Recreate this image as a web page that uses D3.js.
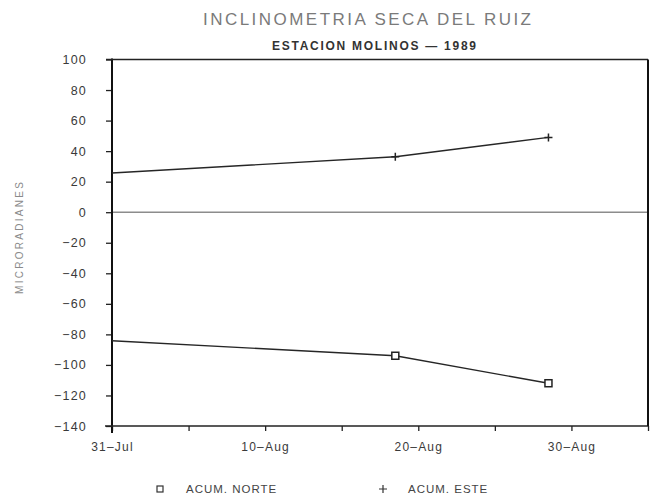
<!DOCTYPE html>
<html>
<head>
<meta charset="utf-8">
<script src="https://cdn.jsdelivr.net/npm/d3@7"></script>
<style>
  html, body { margin: 0; padding: 0; background: #fff; }
  svg { display: block; }
  text { font-family: "Liberation Sans", Arial, sans-serif; }
</style>
</head>
<body>
<svg id="chart" width="657" height="501"></svg>
<script>
// Readings of the dry-tilt station (accumulated tilt, microradians)
const dates = ["1989-07-31T00:00", "1989-08-18T12:00", "1989-08-28T12:00"];
const acumNorte = [-84.2, -94.0, -112.0];
const acumEste = [25.7, 36.3, 49.0];
const seriesNames = ["ACUM. NORTE", "ACUM. ESTE"];

// Axis setup
const xStart = "1989-07-31", xEnd = "1989-09-04";
const tickEveryDays = 5;
const xTickLabels = ["31–Jul", "10–Aug", "20–Aug", "30–Aug"];
const xLabelDates = ["1989-07-31", "1989-08-10", "1989-08-20", "1989-08-30"];
const yTicks = [100, 80, 60, 40, 20, 0, -20, -40, -60, -80, -100, -120, -140];

const title = "INCLINOMETRIA SECA DEL RUIZ";
const subtitle = "ESTACION MOLINOS — 1989";
const yTitle = "MICRORADIANES";

const parse = d3.isoParse;
const svg = d3.select("#chart");

const plot = { left: 112, right: 648, top: 59.5, bottom: 426 };

const x = d3.scaleTime()
  .domain([parse(xStart), parse(xEnd)])
  .range([plot.left, plot.right]);
const y = d3.scaleLinear()
  .domain([-140, 100])
  .range([plot.bottom, plot.top]);

// Titles
svg.append("text")
  .attr("x", 367).attr("y", 25)
  .attr("text-anchor", "middle")
  .attr("font-size", 17)
  .attr("fill", "#7a7a7a")
  .attr("textLength", 328).attr("lengthAdjust", "spacing")
  .text(title);

svg.append("text")
  .attr("x", 374).attr("y", 50)
  .attr("text-anchor", "middle")
  .attr("font-size", 12)
  .attr("font-weight", "bold")
  .attr("fill", "#333")
  .attr("textLength", 204).attr("lengthAdjust", "spacing")
  .text(subtitle);

// Y axis title
svg.append("text")
  .attr("transform", `translate(23,238) rotate(-90)`)
  .attr("text-anchor", "middle")
  .attr("font-size", 10)
  .attr("fill", "#8a8a8a")
  .attr("textLength", 112).attr("lengthAdjust", "spacing")
  .text(yTitle);

// Zero reference line
svg.append("line")
  .attr("x1", plot.left).attr("x2", plot.right)
  .attr("y1", y(0)).attr("y2", y(0))
  .attr("stroke", "#8c8c8c").attr("stroke-width", 1.5);

// Y axis
const yAxis = d3.axisLeft(y)
  .tickValues(yTicks)
  .tickSize(6)
  .tickPadding(19)
  .tickFormat(d => d < 0 ? "−" + Math.abs(d) : String(d));
const gy = svg.append("g")
  .attr("transform", `translate(${plot.left},0)`)
  .call(yAxis);
gy.select(".domain").remove();
gy.selectAll(".tick line").attr("stroke", "#222").attr("stroke-width", 1.3);
gy.selectAll(".tick text")
  .attr("font-size", 12.5)
  .attr("fill", "#3a3a3a")
  .attr("letter-spacing", 1.2)
  .attr("font-family", "Liberation Sans, Arial, sans-serif");

// X axis
const start = parse(xStart);
const nDays = d3.timeDay.count(start, parse(xEnd));
const xTickValues = d3.range(0, nDays + 1, tickEveryDays).map(d => d3.timeDay.offset(start, d));
const labelMap = new Map(xLabelDates.map((d, i) => [+parse(d), xTickLabels[i]]));
const xAxis = d3.axisBottom(x)
  .tickValues(xTickValues)
  .tickSize(5)
  .tickPadding(11)
  .tickFormat(d => labelMap.get(+d) || "");
const gx = svg.append("g")
  .attr("transform", `translate(0,${plot.bottom})`)
  .call(xAxis);
gx.select(".domain").remove();
gx.selectAll(".tick line").attr("stroke", "#222").attr("stroke-width", 1.3);
gx.selectAll(".tick text")
  .attr("font-size", 12)
  .attr("fill", "#3a3a3a")
  .attr("letter-spacing", 1.2)
  .attr("font-family", "Liberation Sans, Arial, sans-serif");

// Plot frame
svg.append("line").attr("x1", plot.left).attr("x2", plot.left).attr("y1", plot.top - 1).attr("y2", plot.bottom + 7)
  .attr("stroke", "#111").attr("stroke-width", 2);
svg.append("line").attr("x1", plot.left - 7).attr("x2", plot.right + 1).attr("y1", plot.bottom).attr("y2", plot.bottom)
  .attr("stroke", "#222").attr("stroke-width", 1.5);
svg.append("line").attr("x1", plot.left - 6).attr("x2", plot.right).attr("y1", plot.top).attr("y2", plot.top)
  .attr("stroke", "#222").attr("stroke-width", 1.5);
svg.append("line").attr("x1", plot.right).attr("x2", plot.right).attr("y1", plot.top).attr("y2", plot.bottom)
  .attr("stroke", "#111").attr("stroke-width", 2);

// Series lines
const pts = arr => arr.map((v, i) => [x(parse(dates[i])), y(v)]);
const line = d3.line();

svg.append("path")
  .attr("d", line(pts(acumEste)))
  .attr("fill", "none").attr("stroke", "#262626").attr("stroke-width", 1.4);
svg.append("path")
  .attr("d", line(pts(acumNorte)))
  .attr("fill", "none").attr("stroke", "#262626").attr("stroke-width", 1.4);

// Markers (first reading sits on the axis and is not marked)
const sq = 7, pl = 4;
svg.append("g").selectAll("rect")
  .data(pts(acumNorte).slice(1))
  .join("rect")
  .attr("x", d => d[0] - sq / 2).attr("y", d => d[1] - sq / 2)
  .attr("width", sq).attr("height", sq)
  .attr("fill", "#fff").attr("stroke", "#222").attr("stroke-width", 1.5);

const plus = ([cx, cy]) => `M${cx - pl},${cy}H${cx + pl}M${cx},${cy - pl}V${cy + pl}`;
svg.append("g").selectAll("path")
  .data(pts(acumEste).slice(1))
  .join("path")
  .attr("d", plus)
  .attr("stroke", "#222").attr("stroke-width", 1.5).attr("fill", "none");

// Legend
const legendY = 488;
svg.append("rect")
  .attr("x", 157).attr("y", legendY - 2).attr("width", 6).attr("height", 6)
  .attr("fill", "#fff").attr("stroke", "#333").attr("stroke-width", 1.2);
svg.append("text")
  .attr("x", 186).attr("y", legendY + 5)
  .attr("font-size", 11.5).attr("fill", "#444").attr("letter-spacing", 1)
  .text(seriesNames[0]);
svg.append("path")
  .attr("d", plus([383, legendY + 1]))
  .attr("stroke", "#333").attr("stroke-width", 1.2);
svg.append("text")
  .attr("x", 408).attr("y", legendY + 5)
  .attr("font-size", 11.5).attr("fill", "#444").attr("letter-spacing", 1)
  .text(seriesNames[1]);
</script>
</body>
</html>
